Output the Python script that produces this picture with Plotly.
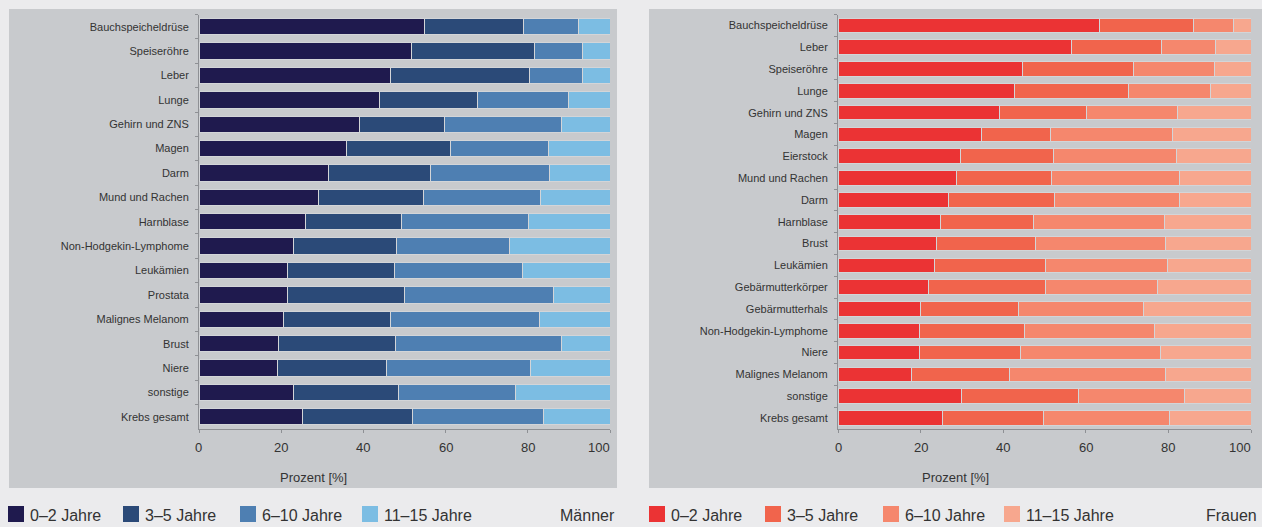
import plotly.graph_objects as go

# ---------------- data ----------------
groups = ["0–2 Jahre", "3–5 Jahre", "6–10 Jahre", "11–15 Jahre"]
ticks = [0, 20, 40, 60, 80, 100]

m_cats = ["Bauchspeicheldrüse", "Speiseröhre", "Leber", "Lunge", "Gehirn und ZNS",
          "Magen", "Darm", "Mund und Rachen", "Harnblase", "Non-Hodgekin-Lymphome",
          "Leukämien", "Prostata", "Malignes Melanom", "Brust", "Niere", "sonstige",
          "Krebs gesamt"]
m_0_2 = [54.9, 51.7, 46.5, 44.0, 39.0, 35.8, 31.6, 29.0, 25.8, 23.1, 21.6, 21.6, 20.6, 19.3, 19.1, 23.1, 25.3]
m_3_5 = [24.0, 29.9, 33.8, 23.8, 20.8, 25.4, 24.8, 25.6, 23.4, 24.9, 26.0, 28.3, 26.1, 28.4, 26.6, 25.5, 26.6]
m_6_10 = [13.5, 11.7, 12.9, 22.2, 28.3, 23.8, 29.0, 28.6, 30.9, 27.6, 31.2, 36.3, 36.1, 40.5, 35.0, 28.4, 31.8]
m_11_15 = [7.6, 6.7, 6.8, 10.0, 11.9, 15.0, 14.6, 16.8, 19.9, 24.4, 21.2, 13.8, 17.2, 11.8, 19.3, 23.0, 16.3]

f_cats = ["Bauchspeicheldrüse", "Leber", "Speiseröhre", "Lunge", "Gehirn und ZNS",
          "Magen", "Eierstock", "Mund und Rachen", "Darm", "Harnblase", "Brust",
          "Leukämien", "Gebärmutterkörper", "Gebärmutterhals", "Non-Hodgekin-Lymphome",
          "Niere", "Malignes Melanom", "sonstige", "Krebs gesamt"]
f_0_2 = [63.3, 56.5, 44.7, 42.7, 39.1, 34.8, 29.6, 28.8, 26.8, 24.7, 23.8, 23.3, 21.8, 19.9, 19.7, 19.7, 17.8, 29.8, 25.2]
f_3_5 = [22.8, 21.8, 26.8, 27.6, 21.1, 16.7, 22.5, 22.8, 25.7, 22.7, 24.0, 26.9, 28.4, 23.9, 25.5, 24.4, 23.7, 28.5, 24.6]
f_6_10 = [9.7, 13.1, 19.7, 20.0, 22.0, 29.5, 29.8, 31.2, 30.1, 31.7, 31.4, 29.7, 27.1, 30.2, 31.4, 34.0, 37.7, 25.6, 30.5]
f_11_15 = [4.2, 8.6, 8.8, 9.7, 17.8, 19.0, 18.1, 17.2, 17.4, 20.9, 20.8, 20.1, 22.7, 26.0, 23.4, 21.9, 20.8, 16.1, 19.7]

m_title = "Männer"
f_title = "Frauen"
axis_title = "Prozent [%]"

# ---------------- style ----------------
W, H = 1262, 527
m_colors = ["#1f1a4e", "#2b4a78", "#4e7fb2", "#7cbde3"]
f_colors = ["#eb3334", "#f1644c", "#f5876d", "#f7a78e"]
page_bg = "#ebebed"
panel_bg = "#c8cacd"
axis_col = "#8e9094"
text_col = "#333333"
FONT = "Liberation Sans, Arial, sans-serif"


def fx(px):
    return px / W


def fy(py):
    return 1 - py / H


fig = go.Figure()

m_vals = [m_0_2, m_3_5, m_6_10, m_11_15]
f_vals = [f_0_2, f_3_5, f_6_10, f_11_15]

for g, vals, col in zip(groups, m_vals, m_colors):
    fig.add_trace(go.Bar(y=m_cats, x=vals, orientation="h", name=g,
                         marker=dict(color=col, line=dict(color="#d3d5d8", width=1)),
                         xaxis="x", yaxis="y", showlegend=False,
                         hovertemplate="%{y}: %{x}%<extra>" + g + "</extra>"))
for g, vals, col in zip(groups, f_vals, f_colors):
    fig.add_trace(go.Bar(y=f_cats, x=vals, orientation="h", name=g,
                         marker=dict(color=col, line=dict(color="#d3d5d8", width=1)),
                         xaxis="x2", yaxis="y2", showlegend=False,
                         hovertemplate="%{y}: %{x}%<extra>" + g + "</extra>"))

panels = {"left": (9, 617), "right": (649, 1262)}
plot_x = {"left": (199, 610), "right": (838, 1251)}
plot_y = (14.5, 429)

common_x = dict(range=[0, 100], showline=True, linecolor=axis_col, linewidth=1,
                ticks="outside", ticklen=3, tickcolor=axis_col, tickvals=ticks,
                showticklabels=False, showgrid=False, zeroline=False, fixedrange=True)
common_y = dict(type="category", autorange="reversed", showline=True, linecolor=axis_col,
                linewidth=1, ticks="outside", tickson="boundaries", ticklen=3,
                tickcolor=axis_col, showgrid=False, zeroline=False, fixedrange=True,
                tickfont=dict(size=11, color=text_col, family=FONT),
                ticklabelstandoff=7)

fig.update_layout(
    width=W, height=H, autosize=False,
    margin=dict(l=0, r=0, t=0, b=0),
    paper_bgcolor=page_bg, plot_bgcolor="rgba(0,0,0,0)",
    barmode="stack", bargap=0.33,
    font=dict(family=FONT, color=text_col),
    xaxis=dict(domain=[fx(plot_x["left"][0]), fx(plot_x["left"][1])], anchor="y", **common_x),
    yaxis=dict(domain=[fy(plot_y[1]), fy(plot_y[0])], anchor="x",
               categoryarray=m_cats, categoryorder="array", **common_y),
    xaxis2=dict(domain=[fx(plot_x["right"][0]), fx(plot_x["right"][1])], anchor="y2", **common_x),
    yaxis2=dict(domain=[fy(plot_y[1]), fy(plot_y[0])], anchor="x2",
                categoryarray=f_cats, categoryorder="array", **common_y),
)

shapes = []
annotations = []
for side in ("left", "right"):
    x0, x1 = panels[side]
    shapes.append(dict(type="rect", xref="paper", yref="paper", x0=fx(x0), x1=fx(x1),
                       y0=fy(488), y1=fy(9), fillcolor=panel_bg, line=dict(width=0),
                       layer="below"))
    # axis title centered on panel
    annotations.append(dict(text=axis_title, xref="paper", yref="paper",
                            x=fx((x0 + x1) / 2), y=fy(477), xanchor="center", yanchor="middle",
                            showarrow=False, font=dict(size=13, color=text_col, family=FONT)))

# tick labels via data coordinates
for xa in ("x", "x2"):
    for t in ticks:
        annotations.append(dict(text=str(t), xref=xa, yref="paper", x=t, y=fy(447),
                                xanchor="right" if t == ticks[-1] else "center",
                                xshift=2 if t == ticks[-1] else 0,
                                yanchor="middle", showarrow=False,
                                font=dict(size=13, color=text_col, family=FONT)))

# legends
legend_x = {"left": [8, 123, 240, 362], "right": [649, 765, 883, 1004]}
for side, cols, title, right_edge in (("left", m_colors, m_title, 617),
                                      ("right", f_colors, f_title, 1259)):
    for g, col, lx in zip(groups, cols, legend_x[side]):
        shapes.append(dict(type="rect", xref="paper", yref="paper", x0=fx(lx), x1=fx(lx + 16),
                           y0=fy(522), y1=fy(506), fillcolor=col, line=dict(width=0)))
        annotations.append(dict(text=g, xref="paper", yref="paper", x=fx(lx + 20), y=fy(515),
                                xanchor="left", yanchor="middle", showarrow=False,
                                font=dict(size=16, color=text_col, family=FONT)))
    annotations.append(dict(text=title, xref="paper", yref="paper", x=fx(right_edge), y=fy(515),
                            xanchor="right", yanchor="middle", showarrow=False,
                            font=dict(size=16, color=text_col, family=FONT)))

fig.update_layout(shapes=shapes, annotations=annotations)

fig.write_html("out.html",
               config={"displayModeBar": False},
               post_script="document.body.style.margin='0';document.body.style.padding='0';"
                           "document.body.style.overflow='hidden';"
                           "document.body.style.background='" + page_bg + "';")
